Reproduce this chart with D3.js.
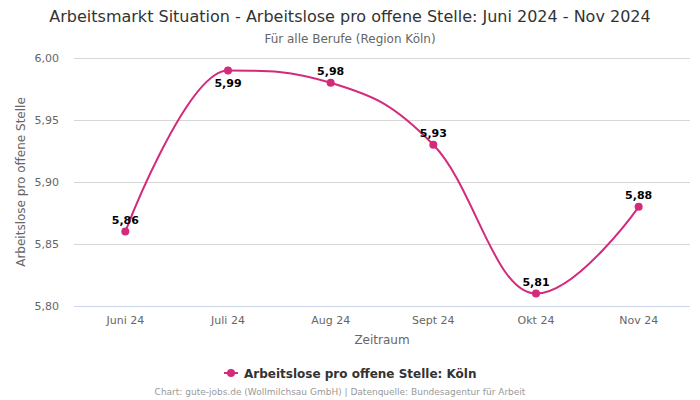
<!DOCTYPE html>
<html><head><meta charset="utf-8">
<script src="https://cdn.jsdelivr.net/npm/d3@7"></script>
<style>body{margin:0;background:#fff}svg{display:block;font-family:"DejaVu Sans",sans-serif}</style>
</head><body>
<svg id="c" width="700" height="400"></svg>
<script>
const categories = ["Juni 24","Juli 24","Aug 24","Sept 24","Okt 24","Nov 24"];
const values = [5.86, 5.99, 5.98, 5.93, 5.81, 5.88];
const yTicks = [5.80, 5.85, 5.90, 5.95, 6.00];
const seriesName = "Arbeitslose pro offene Stelle: Köln";
const color = "#d42a7c";

const svg = d3.select("#c");
const L = 74, R = 690, T = 58, B = 306;
const x = d3.scalePoint().domain(categories).range([L, R]).padding(0.5);
const y = d3.scaleLinear().domain([5.80, 6.00]).range([B, T]);
const fmt = v => v.toFixed(2).replace(".", ",");

svg.append("text").attr("x",350).attr("y",22).attr("text-anchor","middle")
  .attr("font-size",16).attr("fill","#333")
  .text("Arbeitsmarkt Situation - Arbeitslose pro offene Stelle: Juni 2024 - Nov 2024");
svg.append("text").attr("x",350).attr("y",43).attr("text-anchor","middle")
  .attr("font-size",12).attr("fill","#666").text("Für alle Berufe (Region Köln)");

// grid
svg.append("g").selectAll("line").data(yTicks).join("line")
  .attr("x1",L).attr("x2",R).attr("y1",d=>y(d)+0.5).attr("y2",d=>y(d)+0.5)
  .attr("stroke",d=>d===5.80?"#ccd6eb":"#d6d6d6").attr("stroke-width",1);
svg.append("g").selectAll("text").data(yTicks).join("text")
  .attr("x",59).attr("y",d=>y(d)+4).attr("text-anchor","end")
  .attr("font-size",11).attr("fill","#666").text(fmt);
svg.append("g").selectAll("text").data(categories).join("text")
  .attr("x",d=>x(d)).attr("y",324).attr("text-anchor","middle")
  .attr("font-size",11).attr("fill","#666").text(d=>d);
svg.append("text").attr("x",(L+R)/2).attr("y",344).attr("text-anchor","middle")
  .attr("font-size",12).attr("fill","#666").text("Zeitraum");
svg.append("text").attr("transform",`translate(25,${(T+B)/2}) rotate(-90)`)
  .attr("text-anchor","middle").attr("font-size",12).attr("fill","#666")
  .text("Arbeitslose pro offene Stelle");

// Highcharts-like spline
const pts = values.map((v,i)=>({x:x(categories[i]), y:y(v)}));
function splinePath(p){
  const s=1.5, den=s+1;
  const path=d3.path();
  path.moveTo(p[0].x,p[0].y);
  for(let i=1;i<p.length;i++){
    const cur=p[i], last=p[i-1], next=p[i+1];
    let lcx=cur.x, lcy=cur.y;
    if(next){
      lcx=(s*cur.x+last.x)/den; lcy=(s*cur.y+last.y)/den;
      let rcx=(s*cur.x+next.x)/den, rcy=(s*cur.y+next.y)/den;
      let corr=0;
      if(rcx!==lcx) corr=((rcy-lcy)*(rcx-cur.x))/(rcx-lcx)+cur.y-rcy;
      lcy+=corr; rcy+=corr;
      if(lcy>last.y&&lcy>cur.y){lcy=Math.max(last.y,cur.y);rcy=2*cur.y-lcy;}
      else if(lcy<last.y&&lcy<cur.y){lcy=Math.min(last.y,cur.y);rcy=2*cur.y-lcy;}
      if(rcy>next.y&&rcy>cur.y){rcy=Math.max(next.y,cur.y);lcy=2*cur.y-rcy;}
      else if(rcy<next.y&&rcy<cur.y){rcy=Math.min(next.y,cur.y);lcy=2*cur.y-rcy;}
      cur.rcx=rcx; cur.rcy=rcy;
    }
    path.bezierCurveTo(last.rcx??last.x, last.rcy??last.y, lcx, lcy, cur.x, cur.y);
  }
  return path.toString();
}
svg.append("path").attr("d",splinePath(pts)).attr("fill","none")
  .attr("stroke",color).attr("stroke-width",2);
svg.append("g").selectAll("circle").data(pts).join("circle")
  .attr("cx",d=>d.x).attr("cy",d=>d.y).attr("r",4).attr("fill",color);
const maxV = d3.max(values);
svg.append("g").selectAll("text").data(values).join("text")
  .attr("x",(d,i)=>x(categories[i]))
  .attr("y",d=> d===maxV ? y(d)+17 : y(d)-8)
  .attr("text-anchor","middle").attr("font-size",11).attr("font-weight","bold")
  .attr("fill","#000").text(fmt);

// legend
const lg = svg.append("g");
lg.append("line").attr("x1",224).attr("x2",238).attr("y1",373).attr("y2",373).attr("stroke",color).attr("stroke-width",2);
lg.append("circle").attr("cx",231).attr("cy",373).attr("r",4).attr("fill",color);
lg.append("text").attr("x",244).attr("y",377.5).attr("font-size",12).attr("font-weight","bold").attr("fill","#333").text(seriesName);
svg.append("text").attr("x",340).attr("y",395).attr("text-anchor","middle").attr("font-size",9).attr("fill","#999")
  .text("Chart: gute-jobs.de (Wollmilchsau GmbH) | Datenquelle: Bundesagentur für Arbeit");
</script>
</body></html>
